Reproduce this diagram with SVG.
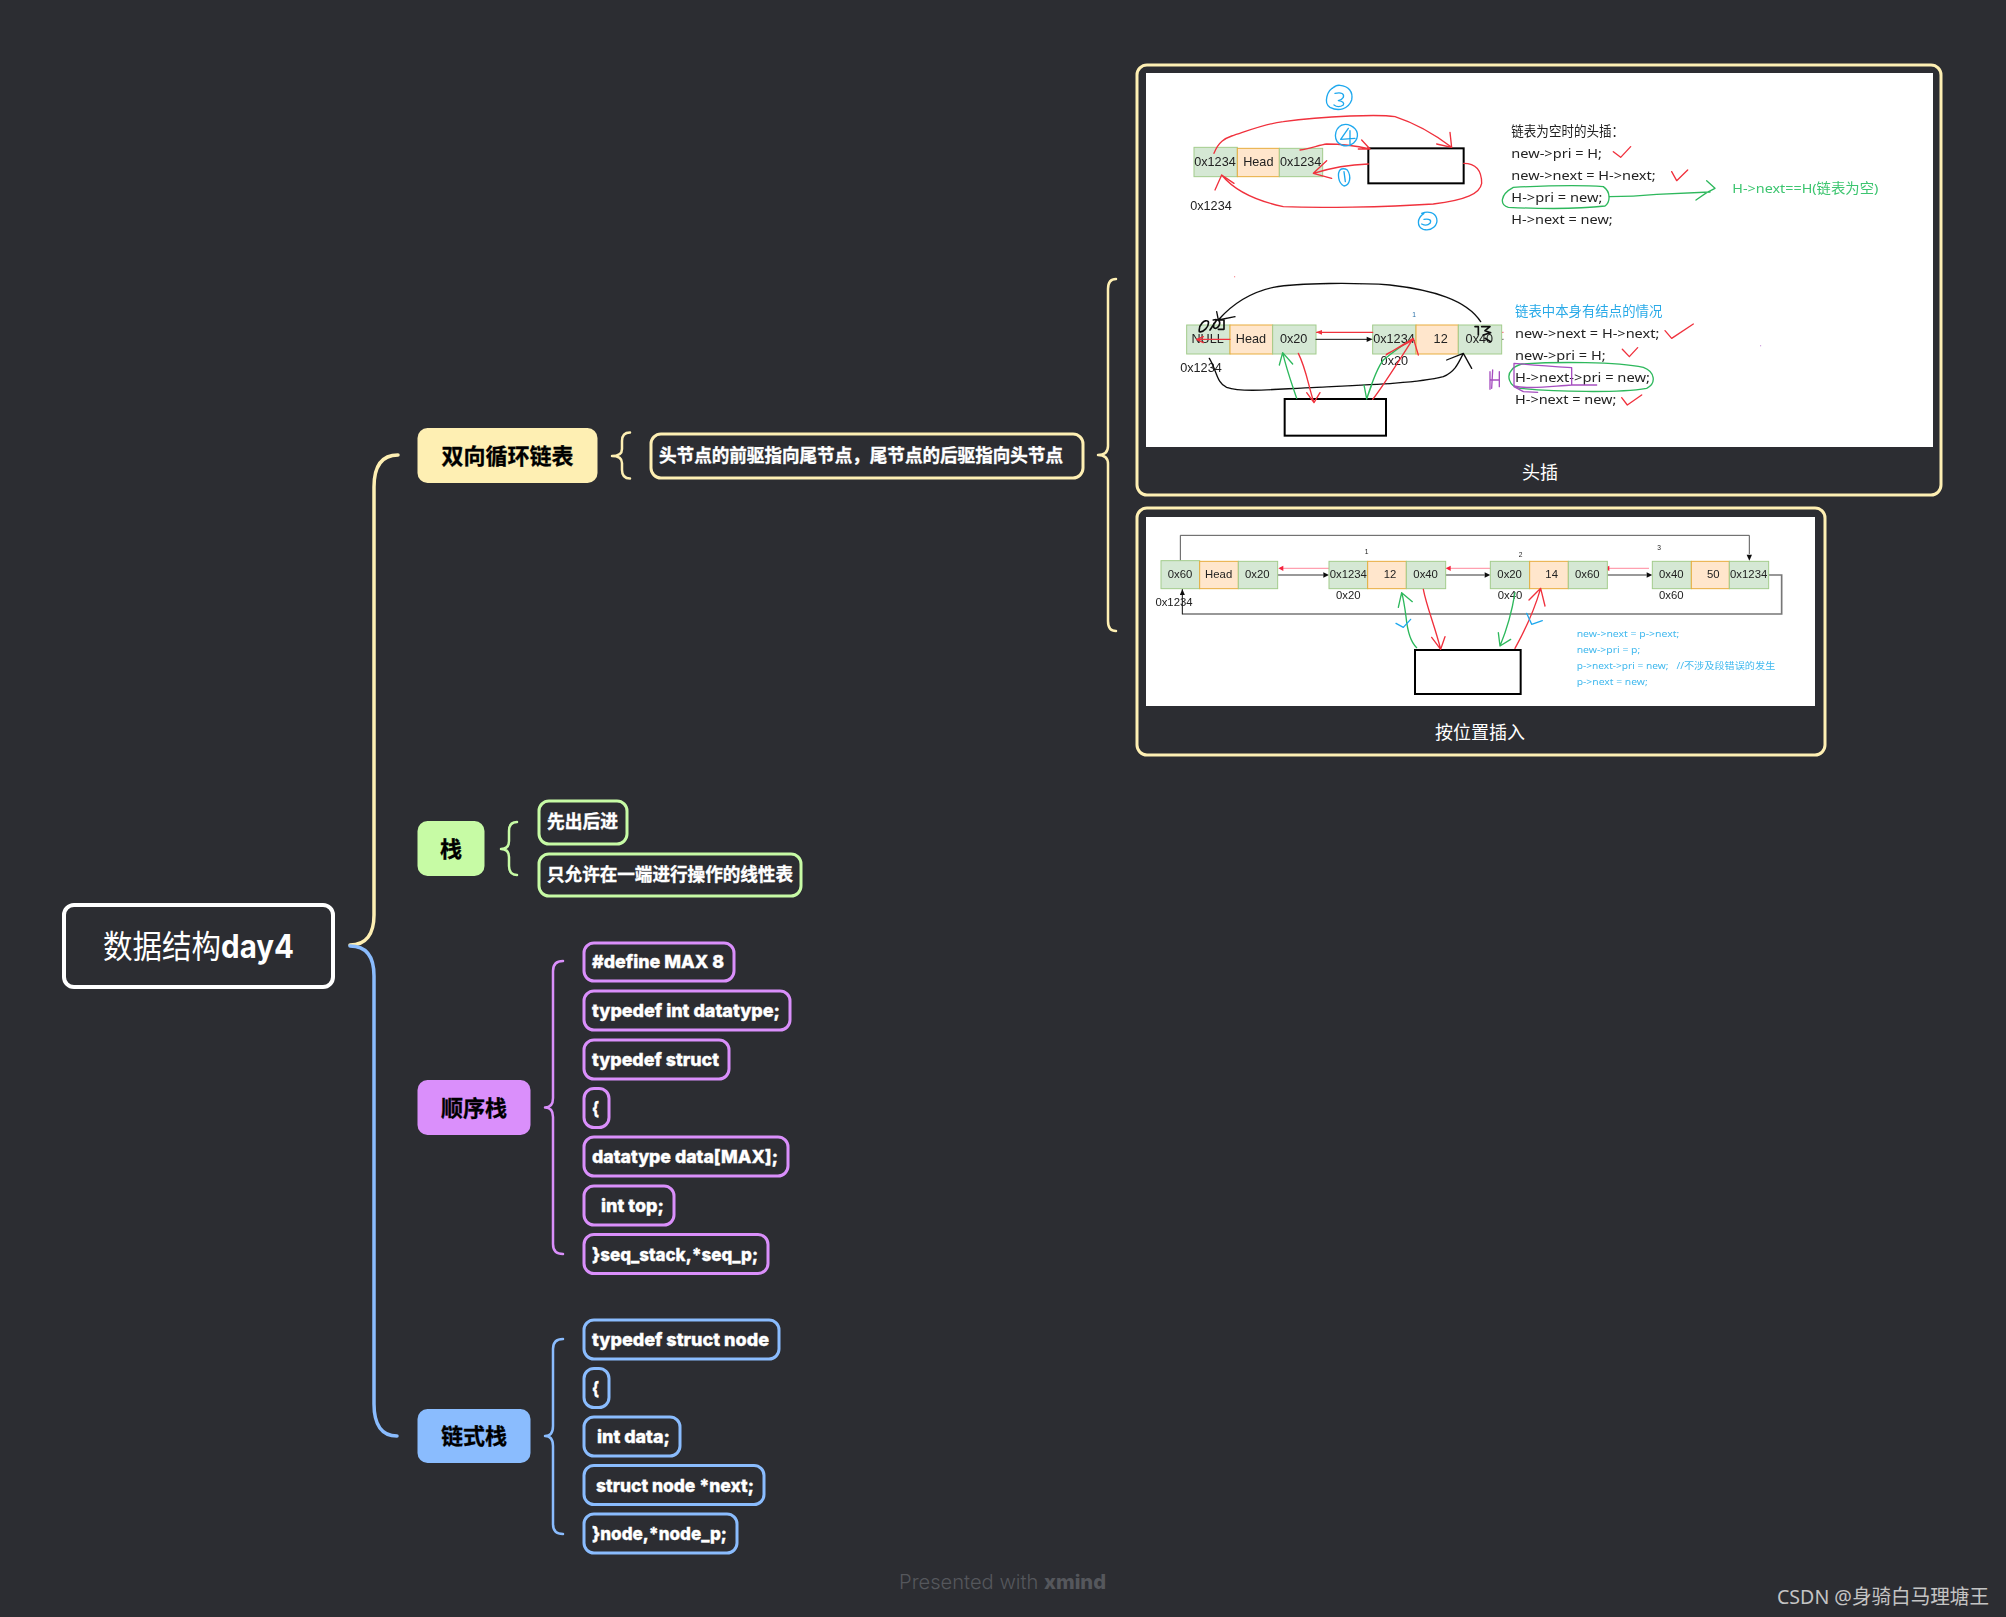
<svg xmlns="http://www.w3.org/2000/svg" width="2006" height="1617" viewBox="0 0 2006 1617">
<style>
text{font-family:"Inter","Noto Sans","Noto Sans CJK SC",sans-serif}
.root{fill:#2c2d32;stroke:#fff;stroke-width:4}
.rt{fill:#fff;font-size:32px;font-weight:400;font-family:"Noto Sans CJK SC",sans-serif;text-anchor:start}
.rd{font-family:"Inter",sans-serif;font-weight:700}
.hd{fill:#000;font-size:22px;font-weight:700;font-family:"Noto Sans CJK SC",sans-serif;text-anchor:middle;stroke:#000;stroke-width:.3}
.ch{fill:#2c2d32;stroke-width:3}
.ct{fill:#fff;font-size:18px;font-weight:800;dominant-baseline:central;stroke:#fff;stroke-width:.35}
.cz{fill:#fff;font-size:18px;font-weight:700;font-family:"Noto Sans CJK SC",sans-serif;stroke:#fff;stroke-width:.35}
.y{stroke:#feefb3}.g{stroke:#c7fba5}.p{stroke:#da8ffb}.b{stroke:#8abcfe}
.ln{fill:none;stroke-width:3.5;stroke-linecap:round;stroke-linejoin:round}
.br{fill:none;stroke-width:2.5;stroke-linecap:round;stroke-linejoin:round}
.card{fill:#2c2d32;stroke:#feefb3;stroke-width:3}
.cap{fill:#fff;font-size:18px;font-family:"Noto Sans CJK SC",sans-serif;text-anchor:middle}
.cg{fill:#d5e8d4;stroke:#a3cc8c;stroke-width:3}
.co{fill:#ffe6cc;stroke:#e8ad3c;stroke-width:3}
.t{fill:#222;font-family:"Liberation Sans","Noto Sans CJK SC",sans-serif;dominant-baseline:central;text-anchor:middle;font-size:38px}
.s{font-size:34px}
.n{fill:#222;font-family:"Noto Sans","Noto Sans CJK SC",sans-serif;font-size:40px;dominant-baseline:central}
.bt{fill:#3fb8ee;font-family:"Noto Sans","Noto Sans CJK SC",sans-serif;font-size:27px;dominant-baseline:central}
.r{fill:none;stroke:#f0303c;stroke-width:4;stroke-linecap:round;stroke-linejoin:round}
.gn{fill:none;stroke:#2db85c;stroke-width:4;stroke-linecap:round;stroke-linejoin:round}
.bl{fill:none;stroke:#1fa8ee;stroke-width:4;stroke-linecap:round;stroke-linejoin:round}
.k{fill:none;stroke:#111;stroke-width:4;stroke-linecap:round;stroke-linejoin:round}
.pu{fill:none;stroke:#a64fc0;stroke-width:4;stroke-linecap:round;stroke-linejoin:round}
.box{fill:#fff;stroke:#000;stroke-width:6}
.gl{fill:none;stroke:#777;stroke-width:5}
.gt{fill:none;stroke:#555;stroke-width:3}
.pk{fill:none;stroke:#ffa0b0;stroke-width:4}
</style>
<defs>
<filter id="soft" x="-2%" y="-2%" width="104%" height="104%"><feGaussianBlur stdDeviation="1"/></filter>
<marker id="ah" markerUnits="userSpaceOnUse" markerWidth="20" markerHeight="20" refX="18" refY="8" orient="auto"><path d="M0,0L18,8L0,16Z" fill="#111"/></marker>
</defs>
<rect width="2006" height="1617" fill="#2c2d32"/>

<g id="connectors">
<path class="ln y" d="M350,945C366,945 374,934 374,915L374,487C374,466 382,455 398,455"/>
<path class="ln b" d="M350,946C366,946 374,956 374,976L374,1404C374,1425 382,1436 397,1436"/>
<path class="br y" d="M630,432.5Q622,432.5 622,441L622,449Q622,456 612,456Q622,456 622,463L622,470Q622,478.5 630,478.5"/>
<path class="br y" d="M1116,279Q1108,279 1108,289L1108,446Q1108,455 1098,455Q1108,455 1108,464L1108,621Q1108,631 1116,631"/>
<path class="br g" d="M517,822Q509,822 509,831L509,841Q509,849 501,849Q509,849 509,857L509,866Q509,875 517,875"/>
<path class="br p" d="M563,961Q553,961 553,971L553,1098Q553,1107.5 545,1107.5Q553,1107.5 553,1117L553,1244Q553,1254 563,1254"/>
<path class="br b" d="M563,1339Q553,1339 553,1349L553,1426Q553,1436 545,1436Q553,1436 553,1446L553,1524Q553,1534 563,1534"/>
</g>

<g id="root"><rect class="root" x="64" y="905" width="269" height="82" rx="10"/><text class="rt" x="103" y="958" textLength="191" lengthAdjust="spacingAndGlyphs">数据结构<tspan class="rd">day4</tspan></text></g>

<g id="topic-list"><rect x="417.500" y="428" width="180" height="55" rx="10" fill="#feefb3"/><text class="hd" x="507.500" y="464">双向循环链表</text></g>
<g id="list-desc"><rect class="ch y" x="651" y="434" width="432" height="44" rx="10"/><text class="cz" x="659" y="462" textLength="404" lengthAdjust="spacingAndGlyphs">头节点的前驱指向尾节点，尾节点的后驱指向头节点</text></g>

<g id="card-head">
<rect class="card" x="1137" y="65" width="804" height="430" rx="10"/>
<rect x="1146" y="73" width="787" height="374" fill="#fff"/>
<text class="cap" x="1540" y="479">头插</text>
<g id="img-a" transform="translate(1150,70) scale(.33333)" filter="url(#soft)">
<rect class="cg" x="132" y="232" width="130" height="88"/><rect class="co" x="262" y="235" width="126" height="85"/><rect class="cg" x="388" y="235" width="130" height="85"/>
<text class="t" x="195" y="275">0x1234</text><text class="t" x="325" y="275">Head</text><text class="t" x="452" y="275">0x1234</text>
<text class="t" x="183" y="407">0x1234</text>
<rect class="box" x="655" y="235" width="286" height="105"/>
<path class="r" d="M192,250C205,215 225,205 245,198C300,180 350,160 400,155C470,145 550,140 600,138C650,136 700,134 735,140C790,158 850,190 905,232M860,222L905,232L900,187"/>
<path class="r" d="M450,240C480,235 510,225 530,222C570,222 620,228 660,237M635,210L660,237L625,237"/>
<path class="r" d="M655,282C600,284 545,293 490,310M530,272L490,310L545,325"/>
<path class="r" d="M941,280C975,280 995,300 995,340C990,370 950,390 850,402C700,412 500,414 400,410C330,395 260,370 215,315M195,360L215,315L252,340"/>
<path class="bl" d="M555,50C530,60 520,100 540,112C565,125 595,118 605,90C610,65 595,48 570,46C560,45 550,50 548,55M555,70Q585,65 580,82Q575,90 565,92Q585,95 580,105Q565,115 552,105"/>
<path class="bl" d="M575,165C550,180 550,215 575,225C605,235 625,210 622,190C618,170 590,155 570,168M595,175L572,208L615,205M600,182L600,225"/>
<path class="bl" d="M572,298C560,310 565,340 582,348C600,345 605,320 592,300C585,295 575,295 570,300M582,305L586,335"/>
<path class="bl" d="M822,430C800,445 800,470 820,478C845,485 865,465 860,445C855,428 835,422 815,430M822,448Q848,445 840,460Q830,470 815,462"/>
</g>
<g id="img-b" transform="translate(1150,270) scale(.33333)" filter="url(#soft)">
<rect class="cg" x="110" y="165" width="130" height="87"/><rect class="co" x="240" y="165" width="128" height="87"/><rect class="cg" x="368" y="165" width="130" height="87"/>
<rect class="cg" x="668" y="165" width="130" height="87"/><rect class="co" x="798" y="165" width="127" height="87"/><rect class="cg" x="925" y="165" width="130" height="87"/>
<text class="t" x="173" y="208">NULL</text><text class="t" x="303" y="208">Head</text><text class="t" x="431" y="208">0x20</text><text class="t" x="732" y="208">0x1234</text><text class="t" x="872" y="208">12</text><text class="t" x="988" y="208">0x40</text>
<text class="t" x="153" y="293">0x1234</text><text class="t" x="733" y="272">0x20</text>
<text class="t" x="792" y="135" style="font-size:20px;fill:#2a6fa8">1</text>
<rect class="box" x="404" y="387" width="304" height="110"/>
<path class="r" d="M668,187L500,187"/><path d="M498,187L516,180V194Z" fill="#f0303c"/>
<path class="k" d="M498,208L650,208" style="stroke-width:3"/><path d="M668,208L650,200V216Z" fill="#111"/>
<path class="k" d="M992,155C950,90 850,60 720,45C620,38 450,38 370,52C290,70 240,110 205,150M200,125L205,150L255,140"/>
<path class="k" d="M178,265C200,300 200,340 230,352C280,370 400,355 500,352C650,345 800,340 880,320C915,305 925,280 940,250M890,270L940,250L965,295"/>
<path class="k" d="M148,185C145,165 165,145 175,155C178,170 160,188 148,185M180,180L200,150M190,150C205,145 215,155 205,170C195,180 188,175 192,160M205,150H222V178H205M975,170H985V195M995,170H1020L1005,182L1022,188L1000,195M1005,205L1022,215" style="stroke-width:5"/>
<path class="r" d="M240,208L140,208M160,200L140,208L160,218"/>
<path class="gn" d="M440,385C425,340 410,300 398,248M388,285L398,248L428,282"/>
<path class="r" d="M445,250C470,300 475,350 492,398M470,368L492,398L510,368"/>
<path class="gn" d="M650,387C665,340 680,295 700,270C730,245 760,225 780,210M642,345L650,387L665,345"/>
<path class="r" d="M668,388C695,355 745,275 790,205M708,255L790,205L805,255M710,252L790,210"/>
<path class="pu" d="M1020,305L1020,358M1028,300L1025,355M1022,330H1048M1048,305V350"/>
<circle cx="254" cy="20" r="1.500" fill="#f0303c"/>
</g>
<g id="img-c" transform="translate(1490,100) scale(.33333)" filter="url(#soft)">
<text class="n" x="64" y="92" textLength="338" lengthAdjust="spacingAndGlyphs">链表为空时的头插：</text>
<text class="n" x="64" y="158" textLength="272" lengthAdjust="spacingAndGlyphs">new-&gt;pri = H;</text>
<text class="n" x="64" y="225" textLength="433" lengthAdjust="spacingAndGlyphs">new-&gt;next = H-&gt;next;</text>
<text class="n" x="64" y="291" textLength="273" lengthAdjust="spacingAndGlyphs">H-&gt;pri = new;</text>
<text class="n" x="64" y="358" textLength="304" lengthAdjust="spacingAndGlyphs">H-&gt;next = new;</text>
<text class="n" x="727" y="264" textLength="438" lengthAdjust="spacingAndGlyphs" style="fill:#3cc56f">H-&gt;next==H(链表为空)</text>
<path class="gn" d="M70,262C150,258 280,255 340,260C362,275 362,305 345,318C260,328 120,325 55,322C30,315 28,285 70,262"/>
<path class="gn" d="M358,290C420,290 480,285 500,283C560,280 620,278 660,276M650,242L675,265L650,278L618,300"/>
<path class="r" d="M370,155L392,172L422,140M545,215L560,242L593,210M525,692L545,715L610,672M397,748L418,770L443,743M395,893L412,915L455,885"/>
<text class="n" x="75" y="632" textLength="442" lengthAdjust="spacingAndGlyphs" style="fill:#29aae8">链表中本身有结点的情况</text>
<text class="n" x="75" y="698" textLength="433" lengthAdjust="spacingAndGlyphs">new-&gt;next = H-&gt;next;</text>
<text class="n" x="75" y="765" textLength="272" lengthAdjust="spacingAndGlyphs">new-&gt;pri = H;</text>
<text class="n" x="75" y="831" textLength="405" lengthAdjust="spacingAndGlyphs">H-&gt;next-&gt;pri = new;</text>
<text class="n" x="75" y="898" textLength="304" lengthAdjust="spacingAndGlyphs">H-&gt;next = new;</text>
<path class="gn" d="M95,792C200,785 380,785 460,802C495,815 500,850 470,865C380,880 200,875 90,865C55,860 50,825 65,810C72,800 85,795 95,792"/>
<path class="pu" d="M72,790L72,860L100,875L143,877M72,790C130,795 200,800 245,803L245,855L320,855M245,855C190,858 120,870 72,858"/>
<circle cx="812" cy="737" r="1.500" fill="#a64fc0"/>
<path d="M36,697H41" stroke="#f0303c" stroke-width="2"/><path d="M36,718H41" stroke="#333" stroke-width="2"/>
</g>
</g>

<g id="card-pos">
<rect class="card" x="1137" y="508" width="688" height="247" rx="10"/>
<rect x="1146" y="517" width="669" height="189" fill="#fff"/>
<text class="cap" x="1480" y="739">按位置插入</text>
<g id="img-d" transform="translate(1150,520) scale(.33333)" filter="url(#soft)">
<path class="gt" d="M91,122V46H1798V102"/>
<path class="gl" d="M1856,165H1895V282H97"/>
<path class="k" d="M97,282V208" style="stroke-width:3" marker-end="url(#ah)"/>
<path class="pk" d="M537,145H390"/><path d="M385,145L400,137V153Z" fill="#f5203c"/>
<path class="pk" d="M1037,145H890"/><path d="M887,145L902,137V153Z" fill="#f5203c"/>
<path class="pk" d="M1497,145H1375"/><path d="M1363,145L1378,137V153Z" fill="#f5203c"/>
<path class="gl" d="M383,165H520"/><path d="M537,165L520,157V173Z" fill="#111"/>
<path class="gl" d="M887,165H1004"/><path d="M1021,165L1004,157V173Z" fill="#111"/>
<path class="gl" d="M1372,165H1490"/><path d="M1507,165L1490,157V173Z" fill="#111"/>
<rect class="cg" x="33" y="122" width="116" height="84"/><rect class="co" x="149" y="124" width="116" height="82"/><rect class="cg" x="265" y="124" width="118" height="82"/>
<rect class="cg" x="537" y="124" width="116" height="82"/><rect class="co" x="653" y="124" width="116" height="82"/><rect class="cg" x="769" y="124" width="118" height="82"/>
<rect class="cg" x="1021" y="124" width="118" height="82"/><rect class="co" x="1139" y="124" width="116" height="82"/><rect class="cg" x="1255" y="124" width="117" height="82"/>
<rect class="cg" x="1507" y="124" width="117" height="82"/><rect class="co" x="1624" y="124" width="114" height="82"/><rect class="cg" x="1738" y="124" width="118" height="82"/>
<path d="M1798,122L1790,104H1806Z" fill="#111"/>
<text class="t s" x="90" y="163">0x60</text><text class="t s" x="206" y="163">Head</text><text class="t s" x="322" y="163">0x20</text>
<text class="t s" x="595" y="163">0x1234</text><text class="t s" x="720" y="163">12</text><text class="t s" x="827" y="163">0x40</text>
<text class="t s" x="1079" y="163">0x20</text><text class="t s" x="1205" y="163">14</text><text class="t s" x="1312" y="163">0x60</text>
<text class="t s" x="1564" y="163">0x40</text><text class="t s" x="1690" y="163">50</text><text class="t s" x="1796" y="163">0x1234</text>
<text class="t s" x="72" y="245">0x1234</text><text class="t s" x="595" y="225">0x20</text><text class="t s" x="1080" y="225">0x40</text><text class="t s" x="1564" y="225">0x60</text>
<text class="t" x="650" y="95" style="font-size:20px">1</text><text class="t" x="1112" y="103" style="font-size:20px">2</text><text class="t" x="1527" y="82" style="font-size:20px">3</text>
<rect class="box" x="795" y="390" width="317" height="132"/>
<path class="gn" d="M800,383C780,365 772,330 768,290C764,260 760,235 755,218M745,262L755,218L787,245"/>
<path class="bl" d="M738,310L760,322L782,298"/>
<path class="r" d="M820,208C830,260 855,320 872,388M845,352L872,388L885,350"/>
<path class="gn" d="M1095,218C1085,280 1070,330 1050,378M1045,338L1050,378L1082,358"/>
<path class="r" d="M1095,385C1120,340 1150,280 1172,205M1137,240L1172,205L1185,258"/>
<path class="bl" d="M1130,280L1145,313L1177,302"/>
<text class="bt" x="1280" y="342" textLength="308" lengthAdjust="spacingAndGlyphs">new-&gt;next = p-&gt;next;</text>
<text class="bt" x="1280" y="390" textLength="191" lengthAdjust="spacingAndGlyphs">new-&gt;pri = p;</text>
<text class="bt" x="1280" y="437" textLength="596" lengthAdjust="spacingAndGlyphs" xml:space="preserve">p-&gt;next-&gt;pri = new;   //不涉及段错误的发生</text>
<text class="bt" x="1280" y="485" textLength="213" lengthAdjust="spacingAndGlyphs">p-&gt;next = new;</text>
</g>
</g>

<g id="topic-stack"><rect x="417.500" y="821" width="67" height="55" rx="10" fill="#c7fba5"/><text class="hd" x="451" y="856.500">栈</text></g>
<g id="s1"><rect class="ch g" x="539" y="801" width="88" height="43" rx="10"/><text class="cz" x="547" y="828" textLength="71" lengthAdjust="spacingAndGlyphs">先出后进</text></g>
<g id="s2"><rect class="ch g" x="539" y="854" width="262" height="42" rx="10"/><text class="cz" x="547" y="881" textLength="246" lengthAdjust="spacingAndGlyphs">只允许在一端进行操作的线性表</text></g>

<g id="topic-seq"><rect x="417.500" y="1080" width="113" height="55" rx="10" fill="#da8ffb"/><text class="hd" x="474" y="1116">顺序栈</text></g>
<g id="q1"><rect class="ch p" x="584" y="943" width="150" height="38" rx="10"/><text class="ct" x="592" y="961.500" textLength="132" lengthAdjust="spacingAndGlyphs">#define MAX 8</text></g>
<g id="q2"><rect class="ch p" x="584" y="991" width="206" height="39" rx="10"/><text class="ct" x="592" y="1010" textLength="188" lengthAdjust="spacingAndGlyphs">typedef int datatype;</text></g>
<g id="q3"><rect class="ch p" x="584" y="1040" width="145" height="39" rx="10"/><text class="ct" x="592" y="1059" textLength="127" lengthAdjust="spacingAndGlyphs">typedef struct</text></g>
<g id="q4"><rect class="ch p" x="584" y="1088.500" width="25" height="39" rx="10"/><text class="ct" x="592" y="1108" textLength="7" lengthAdjust="spacingAndGlyphs">{</text></g>
<g id="q5"><rect class="ch p" x="584" y="1137" width="204" height="39" rx="10"/><text class="ct" x="592" y="1156.500" textLength="186" lengthAdjust="spacingAndGlyphs">datatype data[MAX];</text></g>
<g id="q6"><rect class="ch p" x="584" y="1186" width="90" height="39" rx="10"/><text class="ct" x="601" y="1205" textLength="63" lengthAdjust="spacingAndGlyphs">int top;</text></g>
<g id="q7"><rect class="ch p" x="584" y="1234.500" width="184" height="39" rx="10"/><text class="ct" x="592" y="1254" textLength="166" lengthAdjust="spacingAndGlyphs">}seq_stack,*seq_p;</text></g>

<g id="topic-link"><rect x="417.500" y="1409" width="113" height="54" rx="10" fill="#8abcfe"/><text class="hd" x="474" y="1444">链式栈</text></g>
<g id="l1"><rect class="ch b" x="584" y="1320" width="195" height="39" rx="10"/><text class="ct" x="592" y="1339" textLength="177" lengthAdjust="spacingAndGlyphs">typedef struct node</text></g>
<g id="l2"><rect class="ch b" x="584" y="1368.500" width="25" height="39" rx="10"/><text class="ct" x="592" y="1388" textLength="7" lengthAdjust="spacingAndGlyphs">{</text></g>
<g id="l3"><rect class="ch b" x="584" y="1417" width="96" height="39" rx="10"/><text class="ct" x="597" y="1436.500" textLength="73" lengthAdjust="spacingAndGlyphs">int data;</text></g>
<g id="l4"><rect class="ch b" x="584" y="1465.500" width="180" height="39" rx="10"/><text class="ct" x="596" y="1485" textLength="158" lengthAdjust="spacingAndGlyphs">struct node *next;</text></g>
<g id="l5"><rect class="ch b" x="584" y="1514" width="153" height="39" rx="10"/><text class="ct" x="592" y="1533.500" textLength="135" lengthAdjust="spacingAndGlyphs">}node,*node_p;</text></g>

<g id="footer">
<text x="899" y="1589" font-size="20" fill="#55575c" style="font-weight:300" textLength="207" lengthAdjust="spacingAndGlyphs">Presented with <tspan font-weight="800">xmind</tspan></text>
<text x="1777" y="1604" font-size="20" fill="#c4c4c4" style='font-family:"Noto Sans","Noto Sans CJK SC",sans-serif' textLength="212" lengthAdjust="spacingAndGlyphs">CSDN @身骑白马理塘王</text>
</g>
</svg>
